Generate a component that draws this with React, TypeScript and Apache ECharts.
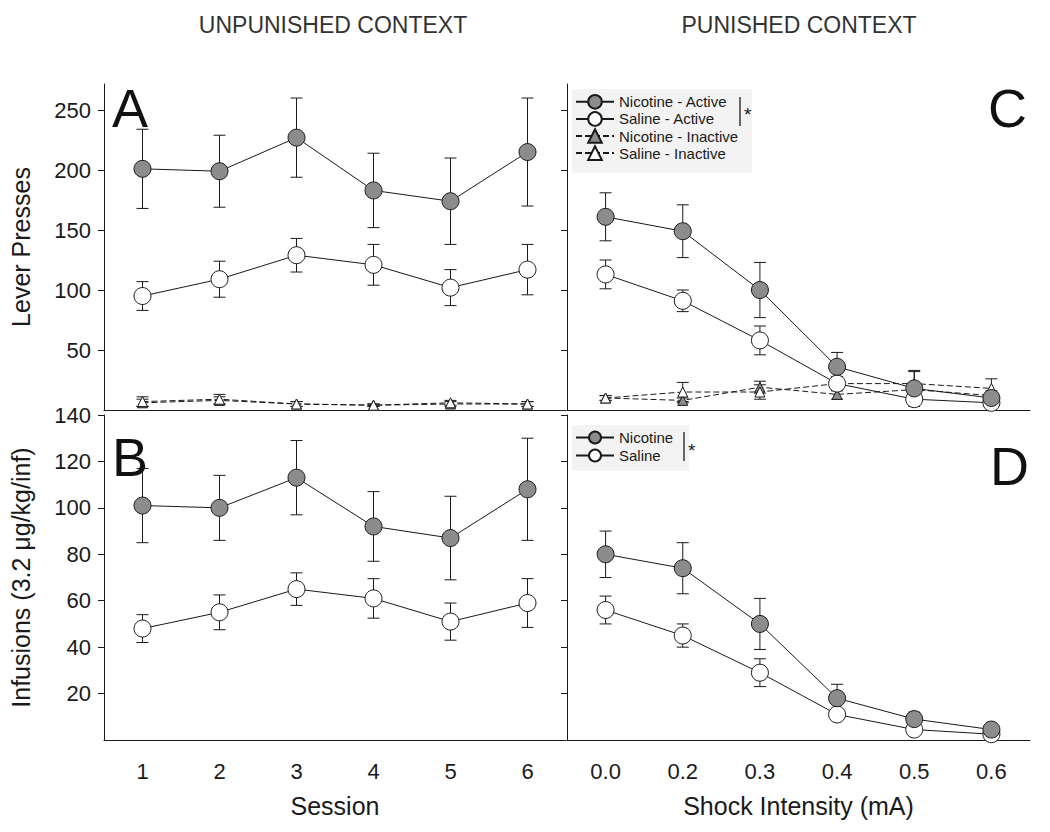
import React, { useEffect, useRef } from 'react';
import * as echarts from 'echarts';

const sessions = ['1', '2', '3', '4', '5', '6'];
const shocks = ['0.0', '0.2', '0.3', '0.4', '0.5', '0.6'];
const yTicksTop = [50, 100, 150, 200, 250];
const yTicksBottom = [20, 40, 60, 80, 100, 120, 140];

// Panel A (unpunished, lever presses)
const aNicActive = [201, 199, 227, 183, 174, 215];
const aNicActiveErr = [33, 30, 33, 31, 36, 45];
const aSalActive = [95, 109, 129, 121, 102, 117];
const aSalActiveErr = [12, 15, 14, 17, 15, 21];
const aNicInactive = [6, 8, 5, 4, 5, 5];
const aNicInactiveErr = [3, 3, 2, 1, 2, 2];
const aSalInactive = [7, 9, 5, 4, 6, 5];
const aSalInactiveErr = [4, 4, 2, 1, 2, 2];

// Panel C (punished, lever presses)
const cNicActive = [161, 149, 100, 36, 18, 10];
const cNicActiveErr = [20, 22, 23, 12, 15, 5];
const cSalActive = [113, 91, 58, 22, 9, 6];
const cSalActiveErr = [12, 9, 12, 5, 3, 3];
const cNicInactive = [10, 8, 19, 13, 17, 12];
const cNicInactiveErr = [2, 2, 5, 4, 4, 4];
const cSalInactive = [10, 15, 15, 22, 22, 18];
const cSalInactiveErr = [2, 8, 6, 6, 10, 8];

// Panel B (unpunished, infusions)
const bNic = [101, 100, 113, 92, 87, 108];
const bNicErr = [16, 14, 16, 15, 18, 22];
const bSal = [48, 55, 65, 61, 51, 59];
const bSalErr = [6, 7.5, 7, 8.5, 8, 10.5];

// Panel D (punished, infusions)
const dNic = [80, 74, 50, 18, 9, 4.5];
const dNicErr = [10, 11, 11, 6, 3, 1];
const dSal = [56, 45, 29, 11, 4.5, 2.5];
const dSalErr = [6, 5, 6, 2, 1, 1];

const FONT = 'Liberation Sans, Arial, sans-serif';
const INK = '#1a1a1a';
const GRAY = '#8c8c8c';

function errData(vals: number[], errs: number[]) {
  return vals.map((v, i) => [i, Math.max(0, v - errs[i]), v + errs[i]]);
}

function errSeries(idx: number, vals: number[], errs: number[]) {
  return {
    type: 'custom',
    xAxisIndex: idx,
    yAxisIndex: idx,
    z: 1,
    silent: true,
    encode: { x: 0, y: [1, 2] },
    data: errData(vals, errs),
    renderItem: (params: any, api: any) => {
      const x = api.value(0);
      const lo = api.coord([x, api.value(1)]);
      const hi = api.coord([x, api.value(2)]);
      const w = 6;
      const style = { stroke: INK, lineWidth: 1 };
      return {
        type: 'group',
        children: [
          { type: 'line', shape: { x1: hi[0], y1: hi[1], x2: lo[0], y2: lo[1] }, style },
          { type: 'line', shape: { x1: hi[0] - w, y1: hi[1], x2: hi[0] + w, y2: hi[1] }, style },
          { type: 'line', shape: { x1: lo[0] - w, y1: lo[1], x2: lo[0] + w, y2: lo[1] }, style },
        ],
      };
    },
  };
}

function lineSeries(
  name: string,
  idx: number,
  vals: number[],
  symbol: string,
  fill: string,
  dashed: boolean,
  size: number
) {
  return {
    type: 'line',
    name,
    xAxisIndex: idx,
    yAxisIndex: idx,
    z: 3,
    data: vals,
    symbol,
    symbolSize: size,
    showAllSymbol: true,
    itemStyle: { color: fill, borderColor: INK, borderWidth: 1 },
    lineStyle: { color: INK, width: 1, type: dashed ? [6, 3] : 'solid' },
    emphasis: { disabled: true },
  };
}

function xAxis(idx: number, cats: string[], showLabels: boolean, name: string) {
  return {
    type: 'category',
    gridIndex: idx,
    data: cats,
    boundaryGap: true,
    axisLine: { lineStyle: { color: INK, width: 1 } },
    axisTick: { alignWithLabel: true, length: 6, lineStyle: { color: INK } },
    axisLabel: {
      show: showLabels,
      color: INK,
      fontSize: 22,
      fontFamily: FONT,
      margin: 20,
    },
    name: name,
    nameLocation: 'middle',
    nameGap: 53,
    nameTextStyle: { color: INK, fontSize: 25, fontFamily: FONT },
    splitLine: { show: false },
  };
}

function yAxis(idx: number, max: number, ticks: number[], showLabels: boolean, name: string) {
  return {
    type: 'value',
    gridIndex: idx,
    min: 0,
    max,
    axisLine: { show: true, lineStyle: { color: INK, width: 1 } },
    axisTick: { show: true, length: 6, customValues: ticks, lineStyle: { color: INK } },
    axisLabel: {
      show: showLabels,
      customValues: ticks,
      color: INK,
      fontSize: 22,
      fontFamily: FONT,
      margin: 13,
    },
    splitLine: { show: false },
    name,
    nameLocation: 'middle',
    nameGap: 71,
    nameTextStyle: { color: INK, fontSize: 25, fontFamily: FONT },
  };
}

export default function App() {
  const ref = useRef<HTMLDivElement>(null);

  useEffect(() => {
    if (!ref.current) return;
    const chart = echarts.init(ref.current, undefined, { renderer: 'svg' });
    const topMax = 271.7;

    const option: any = {
      animation: false,
      backgroundColor: '#ffffff',
      textStyle: { fontFamily: FONT },
      grid: [
        { left: 104, top: 84, width: 462, height: 326 },
        { left: 104, top: 415, width: 462, height: 325 },
        { left: 567, top: 84, width: 463, height: 326 },
        { left: 567, top: 415, width: 463, height: 325 },
      ],
      xAxis: [
        xAxis(0, sessions, false, ''),
        xAxis(1, sessions, true, 'Session'),
        xAxis(2, shocks, false, ''),
        xAxis(3, shocks, true, 'Shock Intensity (mA)'),
      ],
      yAxis: [
        yAxis(0, topMax, yTicksTop, true, 'Lever Presses'),
        yAxis(1, 140, yTicksBottom, true, 'Infusions (3.2 μg/kg/inf)'),
        yAxis(2, topMax, yTicksTop, false, ''),
        yAxis(3, 140, yTicksBottom, false, ''),
      ],
      legend: [
        {
          data: ['Nicotine - Active', 'Saline - Active', 'Nicotine - Inactive', 'Saline - Inactive'],
          orient: 'vertical',
          left: 572,
          top: 89,
          itemWidth: 38,
          itemHeight: 17,
          itemGap: 1.5,
          selectedMode: false,
          backgroundColor: '#f3f3f3',
          padding: [5, 14, 12, 3],
          textStyle: { color: INK, fontSize: 15, fontFamily: FONT },
        },
        {
          data: ['Nicotine', 'Saline'],
          orient: 'vertical',
          left: 572,
          top: 425,
          itemWidth: 38,
          itemHeight: 15,
          itemGap: 3,
          selectedMode: false,
          backgroundColor: '#f3f3f3',
          padding: [5, 16, 8, 3],
          textStyle: { color: INK, fontSize: 15, fontFamily: FONT },
        },
      ],
      graphic: [
        { type: 'text', z: 100, x: 333, y: 25, style: { text: 'UNPUNISHED CONTEXT', fill: '#333', fontSize: 23, fontFamily: FONT, textAlign: 'center', textVerticalAlign: 'middle' } },
        { type: 'text', z: 100, x: 799, y: 25, style: { text: 'PUNISHED CONTEXT', fill: '#333', fontSize: 23, fontFamily: FONT, textAlign: 'center', textVerticalAlign: 'middle' } },
        { type: 'text', z: 100, x: 112, y: 108, style: { text: 'A', fill: '#111', fontSize: 54, fontFamily: FONT, textAlign: 'left', textVerticalAlign: 'middle' } },
        { type: 'text', z: 100, x: 112, y: 457, style: { text: 'B', fill: '#111', fontSize: 54, fontFamily: FONT, textAlign: 'left', textVerticalAlign: 'middle' } },
        { type: 'text', z: 100, x: 1027, y: 108, style: { text: 'C', fill: '#111', fontSize: 54, fontFamily: FONT, textAlign: 'right', textVerticalAlign: 'middle' } },
        { type: 'text', z: 100, x: 1029, y: 466, style: { text: 'D', fill: '#111', fontSize: 54, fontFamily: FONT, textAlign: 'right', textVerticalAlign: 'middle' } },
        { type: 'line', z: 100, shape: { x1: 740, y1: 97, x2: 740, y2: 126 }, style: { stroke: INK, lineWidth: 1.3 } },
        { type: 'text', z: 100, x: 744, y: 114, style: { text: '*', fill: INK, fontSize: 19, fontFamily: FONT, textAlign: 'left', textVerticalAlign: 'middle' } },
        { type: 'line', z: 100, shape: { x1: 684, y1: 432, x2: 684, y2: 461 }, style: { stroke: INK, lineWidth: 1.3 } },
        { type: 'text', z: 100, x: 688, y: 450, style: { text: '*', fill: INK, fontSize: 19, fontFamily: FONT, textAlign: 'left', textVerticalAlign: 'middle' } },
      ],
      series: [
        // Panel A
        errSeries(0, aNicActive, aNicActiveErr),
        errSeries(0, aSalActive, aSalActiveErr),
        errSeries(0, aNicInactive, aNicInactiveErr),
        errSeries(0, aSalInactive, aSalInactiveErr),
        lineSeries('Nicotine - Inactive', 0, aNicInactive, 'triangle', GRAY, true, 10),
        lineSeries('Saline - Inactive', 0, aSalInactive, 'triangle', '#ffffff', true, 10),
        lineSeries('Nicotine - Active', 0, aNicActive, 'circle', GRAY, false, 17),
        lineSeries('Saline - Active', 0, aSalActive, 'circle', '#ffffff', false, 17),
        // Panel B
        errSeries(1, bNic, bNicErr),
        errSeries(1, bSal, bSalErr),
        lineSeries('Nicotine', 1, bNic, 'circle', GRAY, false, 17),
        lineSeries('Saline', 1, bSal, 'circle', '#ffffff', false, 17),
        // Panel C
        errSeries(2, cNicActive, cNicActiveErr),
        errSeries(2, cSalActive, cSalActiveErr),
        errSeries(2, cNicInactive, cNicInactiveErr),
        errSeries(2, cSalInactive, cSalInactiveErr),
        lineSeries('Nicotine - Inactive', 2, cNicInactive, 'triangle', GRAY, true, 10),
        lineSeries('Saline - Inactive', 2, cSalInactive, 'triangle', '#ffffff', true, 10),
        lineSeries('Saline - Active', 2, cSalActive, 'circle', '#ffffff', false, 17),
        lineSeries('Nicotine - Active', 2, cNicActive, 'circle', GRAY, false, 17),
        // Panel D
        errSeries(3, dNic, dNicErr),
        errSeries(3, dSal, dSalErr),
        lineSeries('Saline', 3, dSal, 'circle', '#ffffff', false, 17),
        lineSeries('Nicotine', 3, dNic, 'circle', GRAY, false, 17),
      ],
    };

    chart.setOption(option);
    return () => chart.dispose();
  }, []);

  return (
    <div
      ref={ref}
      style={{ position: 'absolute', left: 0, top: 0, width: 1050, height: 832 }}
    />
  );
}
